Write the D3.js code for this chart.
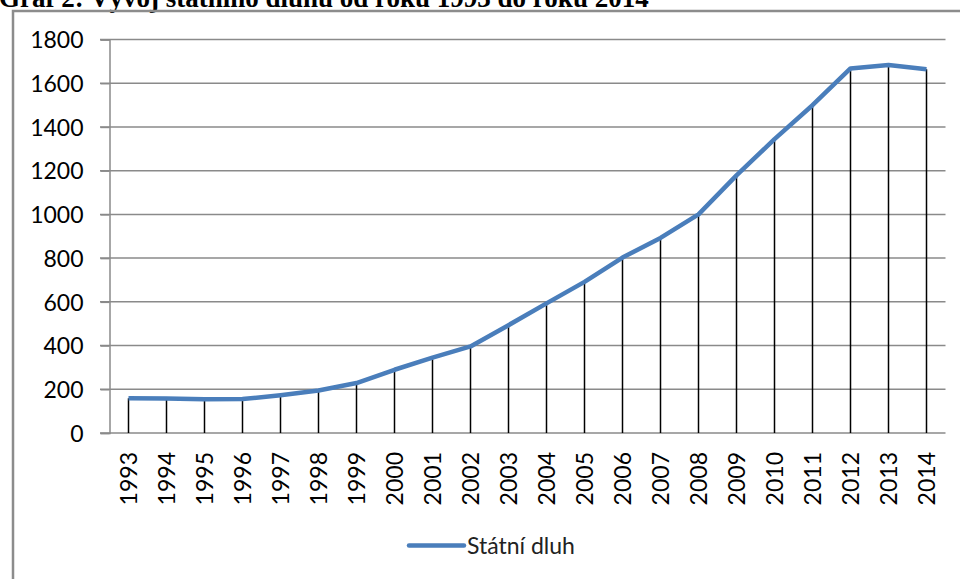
<!DOCTYPE html>
<html>
<head>
<meta charset="utf-8">
<script src="https://cdn.jsdelivr.net/npm/d3@7"></script>
<style>
  body { margin: 0; background: #fff; }
  svg { display: block; }
</style>
</head>
<body>
<svg id="chart" width="960" height="579"></svg>
<script>
// Státní dluh ČR (mld. Kč)
var years = ["1993","1994","1995","1996","1997","1998","1999","2000","2001","2002","2003",
             "2004","2005","2006","2007","2008","2009","2010","2011","2012","2013","2014"];
var debt = [158.8, 157.3, 154.4, 155.2, 173.1, 194.7, 228.4, 289.3, 345.0, 395.9, 493.2,
            592.9, 691.2, 802.5, 892.3, 999.8, 1178.2, 1344.1, 1499.4, 1667.6, 1683.3, 1663.7];
var yTicks = [0, 200, 400, 600, 800, 1000, 1200, 1400, 1600, 1800];
var seriesName = "Státní dluh";
var title = "Graf 2: Vývoj státního dluhu od roku 1993 do roku 2014";

var svg = d3.select("#chart");
var font = "Lato, 'Open Sans', sans-serif";

// title sits mostly above the picture, as in the source crop
svg.append("text")
    .attr("x", -1).attr("y", 7)
    .attr("font-family", "'Liberation Serif', 'Times New Roman', serif")
    .attr("font-weight", "bold")
    .attr("font-size", 27)
    .attr("fill", "#000")
    .text(title);

// chart frame (right and bottom edges are off the picture)
svg.append("path")
    .attr("d", "M13,590 L13,11 L970,11")
    .attr("fill", "none")
    .attr("stroke", "#8c8c8c")
    .attr("stroke-width", 2.5);

var x = d3.scaleBand().domain(years).range([109.5, 945.5]);
var y = d3.scaleLinear().domain([0, 1800]).range([433, 39.5]);

// gridlines
svg.append("g").selectAll("line")
    .data(yTicks.filter(function(d) { return d > 0; }))
    .join("line")
    .attr("x1", 100).attr("x2", 945.5)
    .attr("y1", function(d) { return y(d); })
    .attr("y2", function(d) { return y(d); })
    .attr("stroke", "#8a8a8a").attr("stroke-width", 1.5);

// y axis
var yAxis = svg.append("g")
    .attr("transform", "translate(109.5,0)")
    .call(d3.axisLeft(y).tickValues(yTicks).tickFormat(d3.format("d")).tickSize(9).tickPadding(17));
yAxis.select(".domain").attr("stroke", "#8a8a8a").attr("stroke-width", 1.5);
yAxis.selectAll(".tick line").attr("stroke", "#8a8a8a").attr("stroke-width", 1.5);
yAxis.selectAll("text")
    .attr("font-family", font).attr("font-size", 23).attr("fill", "#000")
    .attr("dy", "0.36em");

// x axis
var xAxis = svg.append("g")
    .attr("transform", "translate(0," + y(0) + ")")
    .call(d3.axisBottom(x).tickSize(0).tickPadding(0));
xAxis.select(".domain").attr("stroke", "#8a8a8a").attr("stroke-width", 1.5)
    .attr("d", "M100,0H945.5");
xAxis.selectAll("text")
    .attr("font-family", font).attr("font-size", 23).attr("fill", "#000")
    .attr("text-anchor", "end")
    .attr("transform", "translate(0,19) rotate(-90)")
    .attr("x", 0).attr("y", 0).attr("dy", "0.36em");

var pts = years.map(function(d, i) { return { year: d, value: debt[i] }; });
var cx = function(d) { return x(d.year) + x.bandwidth() / 2; };

// drop lines
svg.append("g").selectAll("line")
    .data(pts)
    .join("line")
    .attr("x1", cx).attr("x2", cx)
    .attr("y1", function(d) { return y(d.value); })
    .attr("y2", y(0))
    .attr("stroke", "#000").attr("stroke-width", 1.5);

// series line
svg.append("path")
    .datum(pts)
    .attr("fill", "none")
    .attr("stroke", "#4a7ebb")
    .attr("stroke-width", 4.5)
    .attr("stroke-linejoin", "round")
    .attr("d", d3.line().x(cx).y(function(d) { return y(d.value); }));

// legend
var lg = svg.append("g").attr("transform", "translate(409,545.5)");
lg.append("line")
    .attr("x1", 0).attr("x2", 55)
    .attr("stroke", "#4a7ebb").attr("stroke-width", 4.5)
    .attr("stroke-linecap", "round");
lg.append("text")
    .attr("x", 58).attr("dy", "0.36em")
    .attr("font-family", font).attr("font-size", 23).attr("fill", "#222")
    .text(seriesName);
</script>
</body>
</html>
